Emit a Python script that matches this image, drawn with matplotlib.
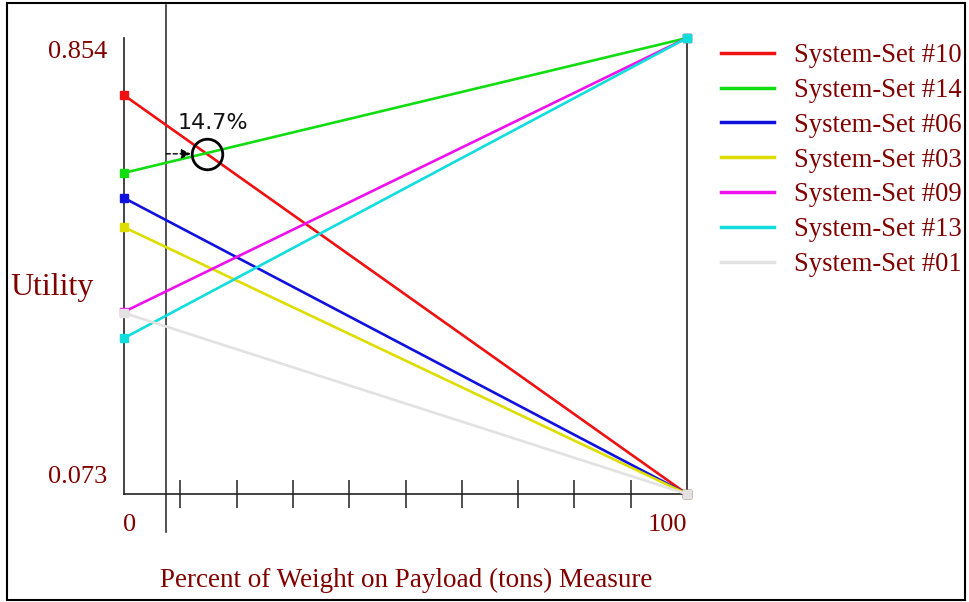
import matplotlib
matplotlib.use("Agg")
import matplotlib.pyplot as plt
from matplotlib.patches import Rectangle
from matplotlib.lines import Line2D

# ---- data ----
series_names = ["System-Set #10", "System-Set #14", "System-Set #06", "System-Set #03",
                "System-Set #09", "System-Set #13", "System-Set #01"]
series_colors = ["#ee1111", "#11dd11", "#1111dd", "#dddd00", "#ee11ee", "#11dddd", "#e2e2e2"]
weights = [0, 100]
utility_at_0 = [0.756, 0.623, 0.580, 0.530, 0.385, 0.340, 0.383]
utility_at_100 = [0.073, 0.854, 0.073, 0.073, 0.854, 0.854, 0.073]
y_min, y_max = 0.073, 0.854
current_weight = 7.5
crossover = 14.7
tick_positions = [10, 20, 30, 40, 50, 60, 70, 80, 90]

W, H = 969, 602
fig = plt.figure(figsize=(W / 100, H / 100), dpi=100)
serif = ["Liberation Serif", "DejaVu Serif"]
maroon = "#800000"

def px(x0, y0):
    return x0 / W, 1 - y0 / H

ax = fig.add_axes([124 / W, 1 - 494 / H, (687 - 124) / W, (494 - 38) / H])
ax.set_xlim(0, 100)
ax.set_ylim(y_min, y_max)

for i in range(len(series_names)):
    ax.plot(weights, [utility_at_0[i], utility_at_100[i]], color=series_colors[i], lw=1.9,
            marker="s", markersize=6, clip_on=False, label=series_names[i], zorder=3 + i * 0.01)

ax.spines["top"].set_visible(False)
for s in ["left", "bottom", "right"]:
    ax.spines[s].set_linewidth(1.2)
    ax.spines[s].set_color("#222222")

ax.set_xticks(tick_positions)
ax.set_xticklabels([])
ax.tick_params(axis="x", direction="inout", length=20, width=1.1, color="#222222")
ax.set_yticks([])

# current weight marker line
ax.axvline(current_weight, ymin=-0.083, ymax=1.072, color="#222222", lw=1.1, clip_on=False, zorder=2)

# crossover circle
r0, r1 = utility_at_0[0], utility_at_100[0]
y_cross = r0 + (r1 - r0) * crossover / 100
ax.plot([crossover], [y_cross], marker="o", markersize=22, markerfacecolor="none",
        markeredgecolor="black", markeredgewidth=2, zorder=6)
ax.annotate("", xy=(crossover, y_cross), xytext=(current_weight, y_cross),
            xycoords="data", textcoords="data",
            arrowprops=dict(arrowstyle="-|>", linestyle=(0, (3, 2)), color="black", lw=1.0,
                            shrinkA=0, shrinkB=11.5, mutation_scale=14), zorder=6)
ax.annotate("14.7%", xy=(crossover, y_cross), xytext=(6, 31), textcoords="offset pixels",
            ha="center", va="center", fontsize=16, color="#111111", family=["DejaVu Sans"])

# y value labels
ax.annotate("0.854", xy=(0, y_max), xytext=(-17, -14), textcoords="offset pixels",
            ha="right", va="center", fontsize=19, color=maroon, family=serif)
ax.annotate("0.073", xy=(0, y_min), xytext=(-17, 17), textcoords="offset pixels",
            ha="right", va="center", fontsize=19, color=maroon, family=serif)
# x end labels
ax.annotate("0", xy=(0, y_min), xytext=(-1, -31), textcoords="offset pixels",
            ha="left", va="center", fontsize=19, color=maroon, family=serif)
ax.annotate("100", xy=(100, y_min), xytext=(0, -31), textcoords="offset pixels",
            ha="right", va="center", fontsize=19, color=maroon, family=serif)

fig.text(*px(52, 287), "Utility", ha="center", va="center", fontsize=23, color=maroon, family=serif)
fig.text(*px(406, 580), "Percent of Weight on Payload (tons) Measure", ha="center", va="center",
         fontsize=19.5, color=maroon, family=serif)

leg_handles = [Line2D([], [], color=c, lw=2.5) for c in series_colors]
leg = fig.legend(leg_handles, series_names, loc="upper left", bbox_to_anchor=px(721, 43),
                 frameon=False, prop={"family": serif, "size": 19.2}, handlelength=1.97,
                 handletextpad=0.75, labelspacing=0.37, borderpad=0, borderaxespad=0)
for t in leg.get_texts():
    t.set_color(maroon)

fig.add_artist(Rectangle(px(7, 600), (965 - 7) / W, (600 - 3) / H, transform=fig.transFigure,
                         fill=False, edgecolor="black", lw=1.5))

fig.savefig("out.png", dpi=100)
